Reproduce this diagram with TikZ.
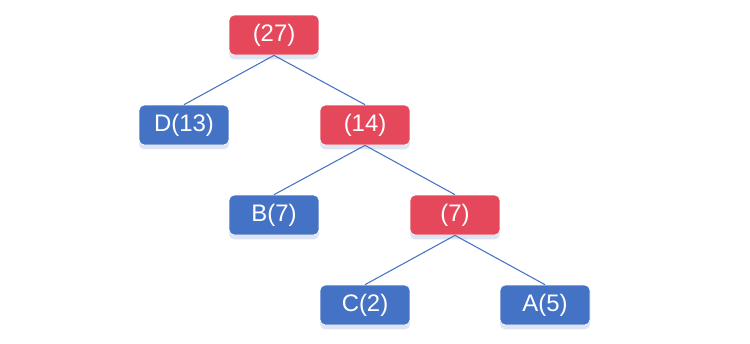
\documentclass[tikz,border=0pt]{standalone}
\usepackage{fontspec}
\setmainfont{Liberation Sans}
\usepackage{xcolor}
\usetikzlibrary{positioning,shadows}
\definecolor{sumred}{RGB}{229,72,91}
\definecolor{leafblue}{RGB}{68,114,196}
\tikzset{
  huffnode/.style={rectangle,rounded corners=3pt,draw=white,thin,minimum width=1.8cm,minimum height=0.8cm,
    font=\fontsize{13.6}{16}\selectfont,text=white,inner sep=1pt,
    drop shadow={shadow xshift=0pt,shadow yshift=-2.5pt,fill=leafblue!60,opacity=0.3}},
  sumnode/.style={huffnode,fill=sumred},
  leafnode/.style={huffnode,fill=leafblue},
  treeedge/.style={leafblue,semithick},
}
\begin{document}
\begin{tikzpicture}[x=0.02cm,y=-0.02cm]
  \useasboundingbox (0,0) rectangle (750,343);
  % Huffman tree
  \node[sumnode]  (n27) at (274,35)  {(27)};
  \node[leafnode] (D)   at (184,125) {D(13)};
  \node[sumnode]  (n14) at (365,125) {(14)};
  \node[leafnode] (B)   at (274,215) {B(7)};
  \node[sumnode]  (n7)  at (455,215) {(7)};
  \node[leafnode] (C)   at (365,305) {C(2)};
  \node[leafnode] (A)   at (545,305) {A(5)};
  \draw[treeedge] (n27.south) -- (D.north);
  \draw[treeedge] (n27.south) -- (n14.north);
  \draw[treeedge] (n14.south) -- (B.north);
  \draw[treeedge] (n14.south) -- (n7.north);
  \draw[treeedge] (n7.south) -- (C.north);
  \draw[treeedge] (n7.south) -- (A.north);
\end{tikzpicture}
\end{document}
